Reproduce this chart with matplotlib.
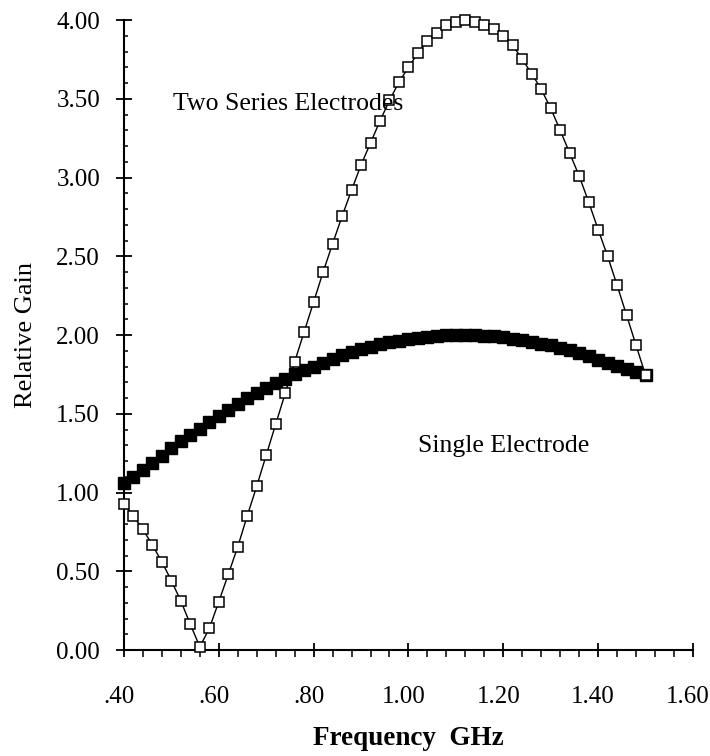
import matplotlib
matplotlib.use("Agg")
import matplotlib.pyplot as plt
from matplotlib.ticker import MultipleLocator, FixedLocator
from matplotlib.transforms import ScaledTranslation

# ---- data ----
freq = [0.40, 0.42, 0.44, 0.46, 0.48, 0.50, 0.52, 0.54, 0.56, 0.58,
        0.60, 0.62, 0.64, 0.66, 0.68, 0.70, 0.72, 0.74, 0.76, 0.78,
        0.80, 0.82, 0.84, 0.86, 0.88, 0.90, 0.92, 0.94, 0.96, 0.98,
        1.00, 1.02, 1.04, 1.06, 1.08, 1.10, 1.12, 1.14, 1.16, 1.18,
        1.20, 1.22, 1.24, 1.26, 1.28, 1.30, 1.32, 1.34, 1.36, 1.38,
        1.40, 1.42, 1.44, 1.46, 1.48, 1.50]

two_series = [0.93, 0.85, 0.766, 0.666, 0.56, 0.44, 0.311, 0.163, 0.02, 0.137,
              0.307, 0.48, 0.656, 0.852, 1.04, 1.237, 1.434, 1.629, 1.83, 2.02,
              2.21, 2.40, 2.58, 2.754, 2.92, 3.08, 3.22, 3.36, 3.49, 3.606,
              3.70, 3.79, 3.87, 3.92, 3.966, 3.99, 4.00, 3.99, 3.97, 3.94,
              3.90, 3.84, 3.75, 3.66, 3.56, 3.44, 3.30, 3.155, 3.01, 2.845,
              2.67, 2.50, 2.316, 2.126, 1.935, 1.745]

single = [1.06, 1.10, 1.145, 1.19, 1.235, 1.28, 1.325, 1.365, 1.405, 1.445,
          1.485, 1.525, 1.56, 1.60, 1.635, 1.665, 1.695, 1.72, 1.75, 1.775,
          1.80, 1.825, 1.85, 1.87, 1.89, 1.91, 1.925, 1.94, 1.953, 1.964,
          1.973, 1.981, 1.988, 1.993, 1.997, 1.999, 2.000, 1.999, 1.996, 1.991,
          1.985, 1.977, 1.968, 1.957, 1.946, 1.935, 1.92, 1.903, 1.885, 1.865,
          1.843, 1.825, 1.806, 1.787, 1.766, 1.745]

x_ticks = [0.40, 0.60, 0.80, 1.00, 1.20, 1.40, 1.60]
x_tick_labels = [".40", ".60", ".80", "1.00", "1.20", "1.40", "1.60"]
y_ticks = [0.0, 0.5, 1.0, 1.5, 2.0, 2.5, 3.0, 3.5, 4.0]
y_tick_labels = ["0.00", "0.50", "1.00", "1.50", "2.00", "2.50", "3.00", "3.50", "4.00"]

label_two = "Two Series Electrodes"
label_single = "Single Electrode"

plt.rcParams['font.family'] = ['Liberation Serif', 'DejaVu Serif']

fig = plt.figure(figsize=(7.10, 7.56), dpi=100)
ax = fig.add_axes([0.1746, 0.1402, 0.976 - 0.1746, 0.9735 - 0.1402])

ax.plot(freq, single, color='black', lw=1.0, marker='s', ms=8.2,
        mfc='black', mec='black', mew=1.0, zorder=2, clip_on=False)
ax.plot(freq, two_series, color='black', lw=1.0, marker='s', ms=7.8,
        mfc='white', mec='black', mew=1.1, zorder=3, clip_on=False)

ax.set_xlim(0.40, 1.60)
ax.set_ylim(0.0, 4.0)

ax.spines['top'].set_visible(False)
ax.spines['right'].set_visible(False)
for s in ('left', 'bottom'):
    ax.spines[s].set_linewidth(1.5)

ax.xaxis.set_major_locator(FixedLocator(x_ticks))
ax.set_xticklabels(x_tick_labels)
ax.yaxis.set_major_locator(FixedLocator(y_ticks))
ax.set_yticklabels(y_tick_labels)
ax.xaxis.set_minor_locator(MultipleLocator(0.04))
ax.yaxis.set_minor_locator(MultipleLocator(0.1))

ax.tick_params(axis='x', which='major', direction='inout', length=10, width=1.3,
               labelsize=18, pad=21)
ax.tick_params(axis='x', which='minor', direction='out', length=5, width=1.1)
ax.tick_params(axis='y', which='major', direction='inout', length=11.5, width=1.3,
               labelsize=18, pad=11.5)
ax.tick_params(axis='y', which='minor', direction='in', length=3, width=1.1)

shift = ScaledTranslation(-5 / 100, 0, fig.dpi_scale_trans)
for lbl in ax.get_xticklabels():
    lbl.set_transform(lbl.get_transform() + shift)

ax.set_ylabel("Relative Gain", fontsize=19, labelpad=14)
ax.set_xlabel("Frequency  GHz", fontsize=19.5, fontweight='bold', labelpad=13)

ax.text(0.503, 3.426, label_two, fontsize=18.5, ha='left', va='baseline', zorder=4)
ax.text(1.020, 1.256, label_single, fontsize=18.5, ha='left', va='baseline', zorder=4)

fig.savefig("out.png", dpi=100)
